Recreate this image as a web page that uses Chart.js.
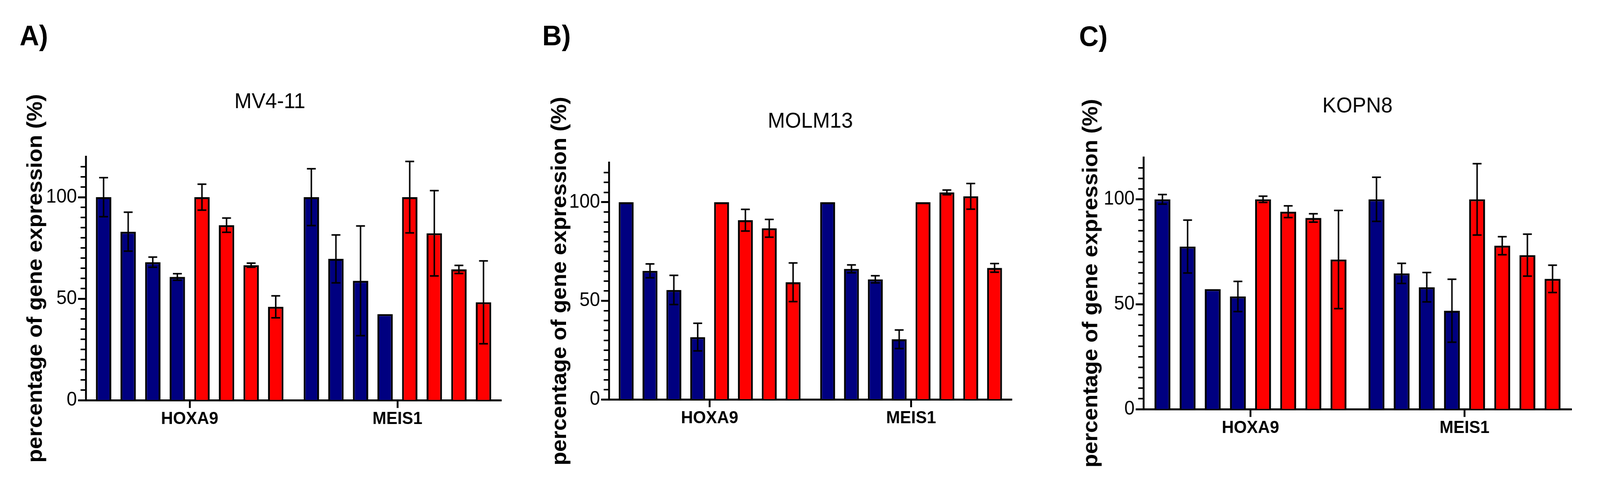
<!DOCTYPE html>
<html>
<head>
<meta charset="utf-8">
<script src="https://cdn.jsdelivr.net/npm/chart.js@4.4.0/dist/chart.umd.min.js"></script>
<style>
html,body{margin:0;padding:0;background:#fff;overflow:hidden;}
#page{position:absolute;left:0;top:0;width:4328px;height:1232px;transform-origin:0 0;background:#fff;}
.panel{position:absolute;top:0;height:1232px;}
.letter{position:absolute;font-family:"Liberation Sans",Arial,sans-serif;font-weight:bold;font-size:73px;line-height:1;color:#000;}
</style>
</head>
<body>
<div id="page">
<div class="letter" style="left:53px;top:54px">A)</div>
<div class="letter" style="left:1467px;top:54px">B)</div>
<div class="letter" style="left:2919px;top:56px">C)</div>
<div class="panel" style="left:0px;width:1440px"><canvas id="chartA"></canvas></div>
<div class="panel" style="left:1440px;width:1440px"><canvas id="chartB"></canvas></div>
<div class="panel" style="left:2880px;width:1448px"><canvas id="chartC"></canvas></div>
</div>
<script>
// ---------------- DATA ----------------
const categories = ['HOXA9', 'MEIS1'];
const panelTitles = ['MV4-11', 'MOLM13', 'KOPN8'];
const yAxisTitle = 'percentage of gene expression (%)';
const yTickValues = [0, 50, 100];
const yMinorTickValues = [5, 10, 15, 20, 25, 30, 35, 40, 45, 55, 60, 65, 70, 75, 80, 85, 90, 95, 105, 110, 115];
const yMax = 120;

// MV4-11 (panel A): 8 bars per gene (4 blue, 4 red)
const mv411Hoxa9    = [100, 83, 68, 60.7, 100, 86.2, 66.5, 46];
const mv411Hoxa9Err = [9.6, 9.6, 2.5, 1.6, 6.4, 3.5, 1, 5.4];
const mv411Meis1    = [100, 69.6, 58.8, 42.4, 100, 82.2, 64.4, 48.2];
const mv411Meis1Err = [14, 11.8, 27, 0, 17.6, 21, 2, 20.4];

// MOLM13 (panel B)
const molm13Hoxa9    = [100, 65.2, 55.5, 31.6, 100, 90.9, 86.8, 59.4];
const molm13Hoxa9Err = [0, 3.5, 7.4, 7, 0, 5.5, 4.5, 9.8];
const molm13Meis1    = [100, 66.2, 60.9, 30.5, 100, 105, 103, 66.7];
const molm13Meis1Err = [0, 2, 1.8, 4.7, 0, 1.2, 6.5, 2.2];

// KOPN8 (panel C)
const kopn8Hoxa9    = [100, 77.5, 57.2, 53.7, 100, 94.1, 91.1, 71.3];
const kopn8Hoxa9Err = [2.3, 12.6, 0, 7.2, 1.5, 2.8, 2, 23.4];
const kopn8Meis1    = [100, 64.7, 58.1, 46.9, 100, 77.9, 73.4, 62.1];
const kopn8Meis1Err = [10.5, 4.8, 7, 15, 17, 4.3, 10, 6.5];

// ---------------- STYLE / LAYOUT ----------------
const FONT = '"Liberation Sans", Arial, sans-serif';
const barColors = ['#000080', '#000080', '#000080', '#000080', '#FF0000', '#FF0000', '#FF0000', '#FF0000'];

// padLeft > 0 with a full-width title shifts the title centre left of the plot centre (panel A);
// padLeft = 0 with a plot-width title centres it on the plot (panels B, C)
const layouts = {
  A: {w: 1440, axisLeft: 232, axisRight: 1356, top: 401, bottom: 1025, padLeft: 104, titleFull: true,  titleY: 262, yTitleX: 97, catPct: 0.947, barPct: 0.625},
  B: {w: 1440, axisLeft: 207, axisRight: 1297, top: 417, bottom: 1023, padLeft: 0,   titleFull: false, titleY: 312, yTitleX: 75, catPct: 0.947, barPct: 0.625},
  C: {w: 1448, axisLeft: 213, axisRight: 1371, top: 403, bottom: 1048, padLeft: 0,   titleFull: false, titleY: 273, yTitleX: 72, catPct: 0.94, barPct: 0.63}
};

// the page is designed at 4328x1232; stretch it onto the actual viewport
const sx = window.innerWidth / 4328;
const sy = window.innerHeight / 1232;
document.getElementById('page').style.transform = 'scale(' + sx + ',' + sy + ')';

const errorBarPlugin = {
  id: 'errorBars',
  afterDatasetsDraw(chart, args, opts) {
    const ctx = chart.ctx;
    const yScale = chart.scales.y;
    ctx.save();
    ctx.strokeStyle = '#000';
    ctx.lineWidth = opts.lineWidth || 4;
    ctx.lineCap = 'butt';
    chart.data.datasets.forEach((ds, di) => {
      const meta = chart.getDatasetMeta(di);
      meta.data.forEach((bar, i) => {
        const e = ds.errors ? ds.errors[i] : 0;
        if (!e) return;
        const v = ds.data[i];
        const yt = yScale.getPixelForValue(v + e);
        const yb = yScale.getPixelForValue(v - e);
        const x = bar.x;
        const cw = opts.capHalf || 12;
        ctx.beginPath();
        ctx.moveTo(x, yt); ctx.lineTo(x, yb);
        ctx.moveTo(x - cw, yt); ctx.lineTo(x + cw, yt);
        ctx.moveTo(x - cw, yb); ctx.lineTo(x + cw, yb);
        ctx.stroke();
      });
    });
    ctx.restore();
  }
};

const minorTickPlugin = {
  id: 'minorTicks',
  afterDraw(chart, args, opts) {
    const ctx = chart.ctx;
    const yScale = chart.scales.y;
    const x0 = chart.chartArea.left;
    ctx.save();
    ctx.strokeStyle = '#000';
    ctx.lineWidth = 4;
    (opts.values || []).forEach(v => {
      const y = Math.round(yScale.getPixelForValue(v));
      ctx.beginPath();
      ctx.moveTo(x0 - 14, y);
      ctx.lineTo(x0, y);
      ctx.stroke();
    });
    ctx.restore();
  }
};

function makeChart(canvasId, L, title, hoxa9, hoxa9Err, meis1, meis1Err) {
  const titleSize = 56;
  const titleHalf = titleSize * 1.2 / 2;
  const yTitleSize = 57;
  const yTitleHalf = yTitleSize * 1.2 / 2;
  const padRight = L.w - L.axisRight;
  const yWidth = L.axisLeft - L.padLeft;
  const datasets = barColors.map((c, i) => ({
    label: 'bar ' + (i + 1),
    data: [hoxa9[i], meis1[i]],
    errors: [hoxa9Err[i], meis1Err[i]],
    backgroundColor: c,
    borderColor: '#000',
    borderWidth: 5,
    borderSkipped: 'start',
    categoryPercentage: L.catPct,
    barPercentage: L.barPct
  }));
  return new Chart(document.getElementById(canvasId), {
    type: 'bar',
    data: {labels: categories, datasets},
    plugins: [errorBarPlugin, minorTickPlugin],
    options: {
      responsive: true,
      maintainAspectRatio: false,
      devicePixelRatio: 1,
      animation: false,
      layout: {padding: {left: L.padLeft, right: padRight, top: 0, bottom: 0}},
      plugins: {
        legend: {display: false},
        tooltip: {enabled: false},
        title: {
          display: true,
          fullSize: L.titleFull,
          text: title,
          color: '#000',
          font: {family: FONT, size: titleSize, weight: 'normal'},
          padding: {top: L.titleY - titleHalf, bottom: L.top - L.titleY - titleHalf}
        },
        errorBars: {lineWidth: 4, capHalf: 12},
        minorTicks: {values: yMinorTickValues}
      },
      scales: {
        x: {
          type: 'category',
          offset: true,
          grid: {display: true, drawOnChartArea: false, offset: false, tickLength: 20, tickWidth: 5, tickColor: '#000'},
          border: {display: true, color: '#000', width: 5},
          ticks: {color: '#000', padding: 2, font: {family: FONT, size: 45, weight: 'bold'}, maxRotation: 0},
          afterFit(scale) { scale.height = 1232 - L.bottom; }
        },
        y: {
          min: 0,
          max: yMax,
          afterBuildTicks(scale) { scale.ticks = yTickValues.map(v => ({value: v})); },
          grid: {display: true, drawOnChartArea: false, tickLength: 21, tickWidth: 5, tickColor: '#000'},
          border: {display: true, color: '#000', width: 5},
          ticks: {color: '#000', padding: 3, font: {family: FONT, size: 50, weight: 'normal'}},
          title: {
            display: true,
            text: yAxisTitle,
            color: '#000',
            font: {family: FONT, size: yTitleSize, weight: 'bold'},
            padding: {top: L.yTitleX - L.padLeft - yTitleHalf, bottom: 0}
          },
          afterFit(scale) { scale.width = yWidth; }
        }
      }
    }
  });
}

makeChart('chartA', layouts.A, panelTitles[0], mv411Hoxa9, mv411Hoxa9Err, mv411Meis1, mv411Meis1Err);
makeChart('chartB', layouts.B, panelTitles[1], molm13Hoxa9, molm13Hoxa9Err, molm13Meis1, molm13Meis1Err);
makeChart('chartC', layouts.C, panelTitles[2], kopn8Hoxa9, kopn8Hoxa9Err, kopn8Meis1, kopn8Meis1Err);
</script>
</body>
</html>
